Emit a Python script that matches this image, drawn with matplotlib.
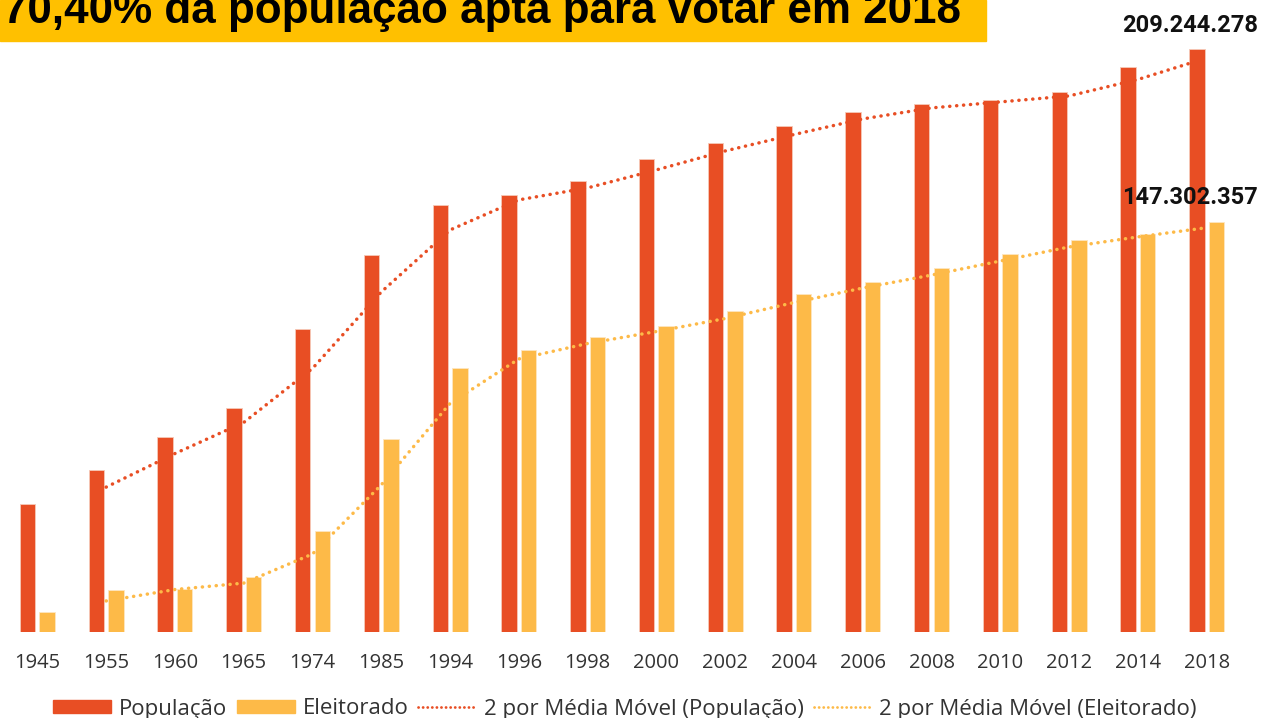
import matplotlib
matplotlib.use("Agg")
import matplotlib.pyplot as plt
from matplotlib.patches import Rectangle
from matplotlib.lines import Line2D
from matplotlib import font_manager as fm
import numpy as np

years = ["1945", "1955", "1960", "1965", "1974", "1985", "1994", "1996", "1998",
         "2000", "2002", "2004", "2006", "2008", "2010", "2012", "2014", "2018"]
populacao = [45.9, 58.1, 70.0, 80.4, 108.8, 135.3, 153.3, 156.9, 161.9,
             169.8, 175.5, 181.6, 186.7, 189.5, 191.0, 193.8, 202.8, 209.244278]
eleitorado = [7.2, 15.1, 15.4, 19.7, 36.3, 69.3, 94.8, 101.2, 105.9,
              109.8, 115.2, 121.3, 125.6, 130.6, 135.7, 140.7, 142.9, 147.302357]
title = "70,40% da população apta para votar em 2018"
label_pop = "209.244.278"
label_ele = "147.302.357"
legend_labels = ["População", "Eleitorado", "2 por Média Móvel (População)",
                 "2 por Média Móvel (Eleitorado)"]

RED = "#E84E24"
YEL = "#FDBA48"
W, H = 1263, 718

def has_font(name):
    try:
        fm.findfont(fm.FontProperties(family=name), fallback_to_default=False)
        return True
    except Exception:
        return False

tick_font = "Open Sans" if has_font("Open Sans") else "DejaVu Sans"
title_font = "Liberation Sans Narrow" if has_font("Liberation Sans Narrow") else "Liberation Sans"

fig = plt.figure(figsize=(W / 100, H / 100), dpi=100)
ax = fig.add_axes([3 / W, (H - 632) / H, 1238 / W, (632 - 49) / H])

x = np.arange(len(years))
bw = 0.225
off = 0.142
ax.bar(x - off, populacao, bw, color=RED, edgecolor="#F6C9B8", linewidth=0.6, zorder=2)
ax.bar(x + off, eleitorado, bw, color=YEL, edgecolor="#FDE6C0", linewidth=0.6, zorder=2)

dot = (0, (0.05, 1.95))
pop_ma = [(populacao[i] + populacao[i - 1]) / 2 for i in range(1, len(x))]
ele_ma = [(eleitorado[i] + eleitorado[i - 1]) / 2 for i in range(1, len(x))]
ax.plot(x[1:], pop_ma, color=RED, linestyle=dot, linewidth=2.5,
        dash_capstyle="round", zorder=3)
ax.plot(x[1:], ele_ma, color=YEL, linestyle=dot, linewidth=2.5,
        dash_capstyle="round", zorder=3)

ax.set_xlim(-0.5, len(x) - 0.5)
ax.set_ylim(0, 209.244278)
ax.set_xticks(x)
ax.set_xticklabels(years, fontsize=14.5, family=tick_font, color="#333333")
ax.tick_params(axis="x", length=0, pad=15)
ax.set_yticks([])
for s in ax.spines.values():
    s.set_visible(False)

# value labels
fig.text(1258 / W, 1 - 25 / H, label_pop, ha="right", va="center",
         fontsize=17, fontweight="bold", family="Roboto", color="#111111")
fig.text(1258 / W, 1 - 197 / H, label_ele, ha="right", va="center",
         fontsize=17, fontweight="bold", family="Roboto", color="#111111")

# title bar
fig.patches.append(Rectangle((0, 1 - 40.5 / H), 986 / W, 40.5 / H,
                             transform=fig.transFigure, color="#FFC000", zorder=0))
t = fig.text(3 / W, 1 - 23 / H, title, ha="left", va="baseline",
             fontsize=36, fontweight="bold", family=title_font, color="black")
fig.canvas.draw()
bb = t.get_window_extent()
t.set_fontsize(36 * 959 / bb.width)

# legend
handles = [Rectangle((0, 0), 1, 1, color=RED), Rectangle((0, 0), 1, 1, color=YEL),
           Line2D([], [], color=RED, linestyle=(0, (0.05, 1.6)), linewidth=2.0,
                  dash_capstyle="round"),
           Line2D([], [], color=YEL, linestyle=(0, (0.05, 1.6)), linewidth=2.0,
                  dash_capstyle="round")]
leg = fig.legend(handles, legend_labels, loc="center", bbox_to_anchor=(625 / W, 1 - 709 / H),
                 ncol=4, frameon=False, handlelength=2.6, handleheight=0.55,
                 handletextpad=0.35, columnspacing=0.45,
                 prop={"family": tick_font, "size": 16})
for txt in leg.get_texts():
    txt.set_color("#333333")

fig.savefig("out.png", dpi=100)
